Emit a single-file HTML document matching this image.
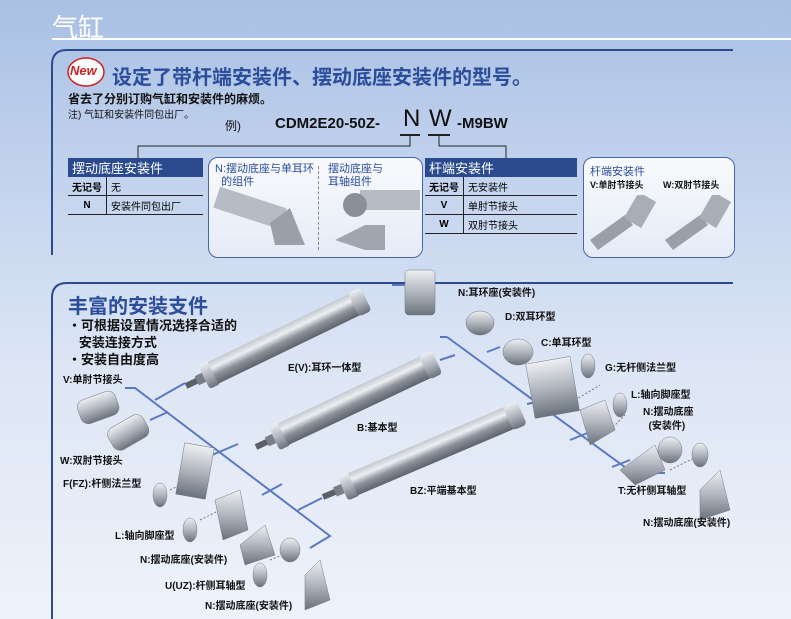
<!DOCTYPE html>
<html><head><meta charset="utf-8"><style>
body{margin:0;width:791px;height:619px;overflow:hidden;position:relative;font-family:"Liberation Sans","Noto Sans CJK SC",sans-serif;background:linear-gradient(180deg,#a9c0e4 0%,#c4d4ee 30%,#dde6f5 60%,#eef2fa 100%);}
.a{position:absolute;white-space:nowrap;}
.lb{font-size:10px;font-weight:bold;color:#111;}
table{border-collapse:collapse;position:absolute;font-size:10px;}
td{height:18px;padding:0 4px;border-bottom:1px solid #222;}
th{background:#2b4a8e;color:#fff;font-weight:normal;text-align:left;font-size:13px;height:19px;padding:0 4px;}
.box{position:absolute;border:1.5px solid #3a5aa0;border-radius:10px;background:linear-gradient(180deg,#fff,#e8eef8);}
</style></head><body>
<div class="a" style="left:52px;top:8px;font-size:26px;color:#fff;">气缸</div>
<div class="a" style="left:52px;top:38px;width:739px;height:2px;background:#fff;"></div>

<svg class="a" style="left:0;top:0" width="791" height="619">
<defs>
<linearGradient id="cg" x1="0" y1="0" x2="0" y2="1"><stop offset="0" stop-color="#c4c9d0"/><stop offset=".3" stop-color="#eceff2"/><stop offset=".6" stop-color="#8c939c"/><stop offset="1" stop-color="#5c636c"/></linearGradient>
<linearGradient id="mg" x1="0" y1="0" x2="0" y2="1"><stop offset="0" stop-color="#eef0f2"/><stop offset=".5" stop-color="#b0b6be"/><stop offset="1" stop-color="#6a727c"/></linearGradient>
<g id="cyl"><rect x="0" y="-3" width="14" height="6" fill="#5a6068"/><rect x="12" y="-5" width="8" height="10" fill="#7a8088"/><rect x="20" y="-13" width="12" height="26" rx="3" fill="url(#mg)"/><rect x="30" y="-12" width="160" height="24" fill="url(#cg)"/><rect x="186" y="-13" width="14" height="26" rx="4" fill="url(#mg)"/></g>
</defs>
<path d="M52,255 V65 Q52,50 67,50 H733" fill="none" stroke="#2c4a8c" stroke-width="2"/>
<path d="M52,619 V298 Q52,283 67,283 H733" fill="none" stroke="#2c4a8c" stroke-width="2"/>
<path d="M400,135h20 M428,135h22" stroke="#222" stroke-width="2"/>
<path d="M410,135V146H138V158 M439,135V146H506V158" fill="none" stroke="#222" stroke-width="1"/>
<ellipse cx="86" cy="72" rx="18" ry="14" fill="#fff" stroke="#c22" stroke-width="1.5"/>
<g stroke="#5c78c0" stroke-width="2" fill="none">
<path d="M125,388H135L330,536L310,548"/>
<path d="M155,400L185,383 M150,420L168,412 M205,458L238,444 M262,495L282,484 M298,510L322,498"/>
<path d="M447,337H440 M447,337L633,473H665 M455,355L440,360 M487,352L500,347 M527,404L545,400 M570,440L590,432 M612,467L630,460"/>
<path d="M392,285H430"/>
</g>
<g stroke="#777" stroke-width="1" stroke-dasharray="2,2"><path d="M170,490L200,475 M200,520L230,505 M270,560L300,548 M575,400L600,385 M610,430L625,415 M670,470L700,455"/></g>
<g transform="translate(186,386) rotate(-25.8)"><use href="#cyl"/></g>
<g transform="translate(256,447) rotate(-25.2)"><use href="#cyl"/></g>
<g transform="translate(323,497) rotate(-23)"><use href="#cyl" transform="scale(1.08,1)"/></g>
<g fill="url(#mg)" stroke="#778" stroke-width=".5">
<rect x="405" y="270" width="30" height="45" rx="4"/>
<ellipse cx="480" cy="323" rx="14" ry="12"/><ellipse cx="518" cy="352" rx="15" ry="13"/>
<rect x="530" y="360" width="45" height="55" transform="rotate(-10 552 387)"/>
<ellipse cx="588" cy="366" rx="7" ry="12"/><ellipse cx="620" cy="405" rx="7" ry="12"/>
<path d="M580,410l25,-10 10,30 -25,15z"/><path d="M620,470l35,-25 10,25 -30,15z"/>
<ellipse cx="670" cy="450" rx="12" ry="13"/><ellipse cx="700" cy="455" rx="8" ry="12"/>
<path d="M700,490l20,-20 10,40 -30,10z"/>
<rect x="78" y="395" width="40" height="25" rx="8" transform="rotate(-20 98 407)"/>
<rect x="108" y="420" width="40" height="25" rx="8" transform="rotate(-30 128 432)"/>
<rect x="180" y="445" width="30" height="52" transform="rotate(10 195 471)"/>
<ellipse cx="160" cy="495" rx="7" ry="12"/><ellipse cx="190" cy="530" rx="7" ry="12"/>
<path d="M215,500l25,-10 8,40 -25,10z"/><path d="M240,545l25,-20 10,30 -30,10z"/>
<ellipse cx="290" cy="550" rx="10" ry="12"/><ellipse cx="260" cy="575" rx="7" ry="12"/>
<path d="M305,575l15,-15 10,40 -25,10z"/>
</g>
</svg>

<div class="a" style="left:70px;top:63px;font-size:13px;font-style:italic;font-weight:bold;color:#c22;">New</div>
<div class="a" style="left:112px;top:61px;font-size:20px;font-weight:bold;color:#2b4d9a;">设定了带杆端安装件、摆动底座安装件的型号。</div>
<div class="a" style="left:68px;top:90px;font-size:12px;font-weight:bold;color:#111;">省去了分别订购气缸和安装件的麻烦。</div>
<div class="a" style="left:68px;top:106px;font-size:10px;color:#111;">注) 气缸和安装件同包出厂。</div>
<div class="a" style="left:225px;top:117px;font-size:12px;color:#111;">例)</div>
<div class="a" style="left:275px;top:115px;font-size:15px;font-weight:bold;color:#111;">CDM2E20-50Z-</div>
<div class="a" style="left:403px;top:105px;font-size:24px;color:#111;">N</div>
<div class="a" style="left:429px;top:105px;font-size:24px;color:#111;">W</div>
<div class="a" style="left:457px;top:115px;font-size:15px;font-weight:bold;color:#111;">-M9BW</div>

<table style="left:68px;top:158px;width:135px;"><tr><th colspan="2">摆动底座安装件</th></tr>
<tr><td style="width:30px;border-right:1px solid #222;font-weight:bold">无记号</td><td>无</td></tr>
<tr><td style="border-right:1px solid #222;font-weight:bold;text-align:center">N</td><td>安装件同包出厂</td></tr></table>
<table style="left:425px;top:158px;width:152px;"><tr><th colspan="2">杆端安装件</th></tr>
<tr><td style="width:30px;border-right:1px solid #222;font-weight:bold">无记号</td><td>无安装件</td></tr>
<tr><td style="border-right:1px solid #222;font-weight:bold;text-align:center">V</td><td>单肘节接头</td></tr>
<tr><td style="border-right:1px solid #222;font-weight:bold;text-align:center">W</td><td>双肘节接头</td></tr></table>
<div class="box" style="left:208px;top:157px;width:213px;height:99px;opacity:.9"></div>
<div class="a" style="left:318px;top:166px;height:84px;border-left:1px dashed #888;"></div>
<svg class="a" style="left:210px;top:185px" width="210" height="70">
<rect x="5" y="12" width="70" height="22" fill="#b6bcc4" transform="rotate(18 40 23)"/>
<path d="M60,38 l20,-15 10,25 5,12 -30,0z" fill="#9aa0a8"/>
<rect x="150" y="5" width="60" height="20" fill="#b6bcc4"/>
<circle cx="145" cy="20" r="12" fill="#8a9098"/>
<path d="M125,55 l30,-15 20,0 0,25 -20,0z" fill="#a0a6ae"/>
</svg>
<div class="a" style="left:215px;top:163px;font-size:11px;color:#2b4d9a;line-height:13px;">N:摆动底座与单耳环<br>&nbsp;&nbsp;的组件</div>
<div class="a" style="left:328px;top:163px;font-size:11px;color:#2b4d9a;line-height:13px;">摆动底座与<br>耳轴组件</div>
<div class="box" style="left:583px;top:157px;width:150px;height:99px;opacity:.9"></div>
<svg class="a" style="left:585px;top:195px" width="148" height="60">
<path d="M5,45 l35,-25 8,10 -35,25z" fill="#9aa0a8"/><rect x="45" y="0" width="20" height="30" fill="#a8aeb6" transform="rotate(30 55 15)"/>
<path d="M80,45 l35,-25 8,10 -35,25z" fill="#9aa0a8"/><rect x="120" y="0" width="20" height="30" fill="#a8aeb6" transform="rotate(30 130 15)"/>
</svg>
<div class="a" style="left:590px;top:163px;font-size:11px;color:#2b4d9a;">杆端安装件</div>
<div class="a lb" style="left:590px;top:178px;font-size:9px">V:单肘节接头</div>
<div class="a lb" style="left:663px;top:178px;font-size:9px">W:双肘节接头</div>

<div class="a" style="left:68px;top:290px;font-size:20px;font-weight:bold;color:#2b4d9a;">丰富的安装支件</div>
<div class="a" style="left:68px;top:317px;font-size:13px;font-weight:bold;color:#111;line-height:17px;">・可根据设置情况选择合适的<br>&nbsp;&nbsp;&nbsp;安装连接方式<br>・安装自由度高</div>
<div class="a lb" style="left:458px;top:284px">N:耳环座(安装件)</div>
<div class="a lb" style="left:505px;top:308px">D:双耳环型</div>
<div class="a lb" style="left:541px;top:334px">C:单耳环型</div>
<div class="a lb" style="left:605px;top:359px">G:无杆侧法兰型</div>
<div class="a lb" style="left:631px;top:386px">L:轴向脚座型</div>
<div class="a lb" style="left:643px;top:406px;line-height:14px">N:摆动底座<br>&nbsp;&nbsp;(安装件)</div>
<div class="a lb" style="left:618px;top:482px">T:无杆侧耳轴型</div>
<div class="a lb" style="left:643px;top:514px">N:摆动底座(安装件)</div>
<div class="a lb" style="left:288px;top:359px">E(V):耳环一体型</div>
<div class="a lb" style="left:357px;top:419px">B:基本型</div>
<div class="a lb" style="left:410px;top:482px">BZ:平端基本型</div>
<div class="a lb" style="left:63px;top:371px">V:单肘节接头</div>
<div class="a lb" style="left:60px;top:452px">W:双肘节接头</div>
<div class="a lb" style="left:63px;top:475px">F(FZ):杆侧法兰型</div>
<div class="a lb" style="left:115px;top:527px">L:轴向脚座型</div>
<div class="a lb" style="left:140px;top:551px">N:摆动底座(安装件)</div>
<div class="a lb" style="left:165px;top:577px">U(UZ):杆侧耳轴型</div>
<div class="a lb" style="left:205px;top:597px">N:摆动底座(安装件)</div>
</body></html>
